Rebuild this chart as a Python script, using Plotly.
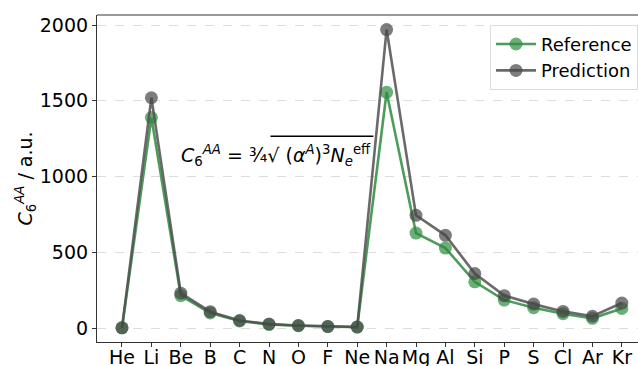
import plotly.graph_objects as go

elements = ["He", "Li", "Be", "B", "C", "N", "O", "F", "Ne",
            "Na", "Mg", "Al", "Si", "P", "S", "Cl", "Ar", "Kr"]
reference = [1.46, 1389, 214, 99.5, 46.6, 24.2, 15.6, 9.52, 6.38,
             1556, 627, 528, 305, 185, 134, 94.6, 64.3, 129.6]
prediction = [1.6, 1520, 230, 108, 50, 26, 17, 10.5, 7.0,
              1970, 744, 612, 360, 214, 158, 110, 78, 165]
y_ticks = [0, 500, 1000, 1500, 2000]

FONT = "DejaVu Sans, sans-serif"
x = list(range(len(elements)))

fig = go.Figure()
fig.add_trace(go.Scatter(
    x=x, y=reference, name="Reference", mode="lines+markers",
    line=dict(color="rgba(46,139,62,0.85)", width=2.6),
    marker=dict(color="rgba(46,139,62,0.7)", size=13),
))
fig.add_trace(go.Scatter(
    x=x, y=prediction, name="Prediction", mode="lines+markers",
    line=dict(color="rgba(80,80,80,0.85)", width=2.6),
    marker=dict(color="rgba(70,70,70,0.7)", size=13),
))

fig.update_layout(
    width=638, height=366,
    margin=dict(l=97, r=0, t=15, b=24),
    paper_bgcolor="white", plot_bgcolor="white",
    font=dict(family=FONT, size=19, color="black"),
    showlegend=True,
    legend=dict(x=1.0, y=0.97, xanchor="right", yanchor="top",
                bgcolor="rgba(255,255,255,0.8)", bordercolor="#dddddd",
                borderwidth=1, font=dict(size=18), tracegroupgap=0,
                itemwidth=40),
    xaxis=dict(
        tickmode="array", tickvals=x, ticktext=elements,
        range=[-0.85, 17.55], showgrid=False, zeroline=False,
        showline=True, linecolor="#333333", linewidth=1.2,
        ticks="outside", ticklen=4, tickcolor="#333333",
        tickfont=dict(size=19), automargin=False,
        ticklabelstandoff=-6,
    ),
    yaxis=dict(
        tickmode="array", tickvals=y_ticks,
        range=[-92, 2066], zeroline=False,
        showgrid=True, gridcolor="#dddddd", griddash="dash", gridwidth=0.8,
        showline=True, linecolor="#333333", linewidth=1.2,
        ticks="outside", ticklen=4, tickcolor="#333333",
        tickfont=dict(size=19), automargin=False,
        title=dict(text="<i>C</i><sub>6</sub><sup><i>AA</i></sup> / a.u.",
                   font=dict(size=19), standoff=2),
    ),
    shapes=[
        dict(type="line", xref="paper", yref="paper", x0=0, x1=1,
             y0=1, y1=1, line=dict(color="#777777", width=1.5)),
        dict(type="line", xref="x", yref="y", x0=5.05, x1=8.55,
             y0=1265, y1=1265, line=dict(color="black", width=1.5)),
    ],
    annotations=[dict(
        x=1.95, y=1142, xref="x", yref="y", xanchor="left", yanchor="middle",
        showarrow=False, font=dict(size=19, family=FONT),
        text="<i>C</i><sub>6</sub><sup><i>AA</i></sup> = ¾√ (<i>α</i><sup><i>A</i></sup>)<sup>3</sup><i>N</i><sub><i>e</i></sub><sup>eff</sup>",
    )],
)

fig.write_html("out.html")
